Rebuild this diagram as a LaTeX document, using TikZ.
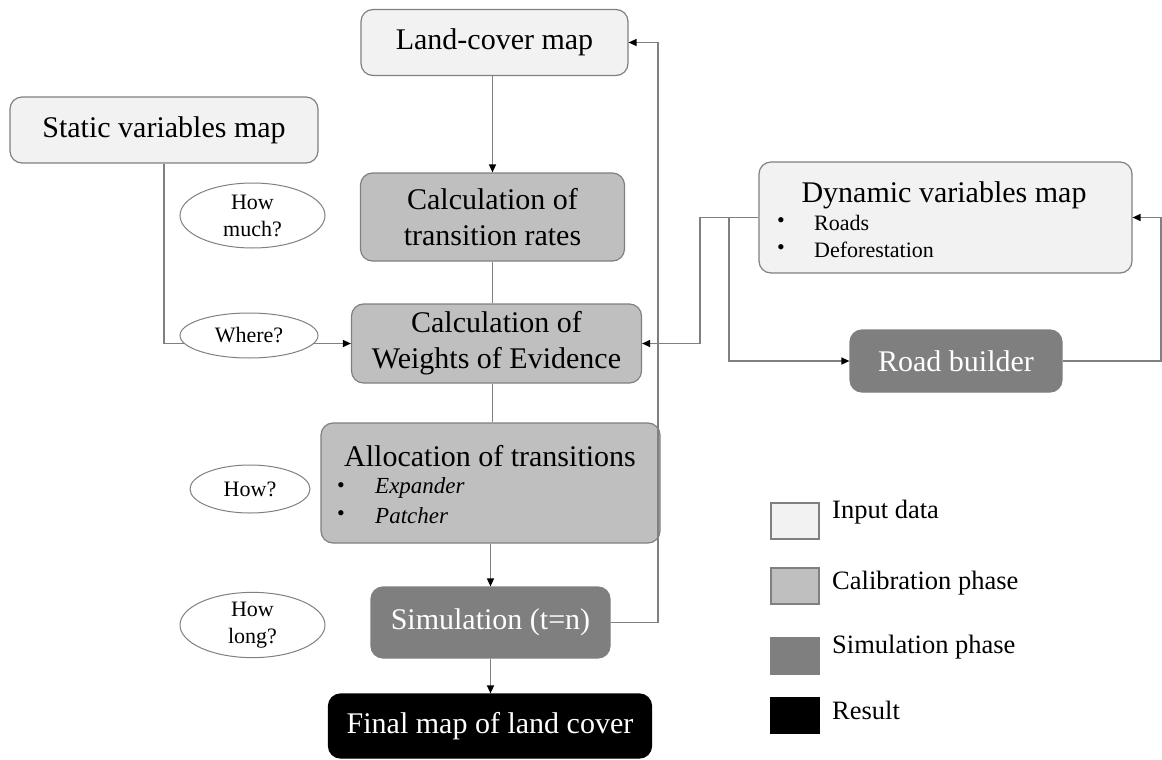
\documentclass[tikz,border=0pt]{standalone}
\usepackage{fontspec}
\setmainfont{Liberation Serif}
\usetikzlibrary{arrows.meta,shapes.geometric}
\definecolor{inputc}{HTML}{F2F2F2}
\definecolor{calc}{HTML}{BFBFBF}
\definecolor{simc}{HTML}{7F7F7F}
\definecolor{edgec}{HTML}{808080}
\tikzset{
  box/.style={draw=edgec, line width=1.2pt, rounded corners=12pt, align=center, inner sep=0pt, font=\fontsize{30}{36}\selectfont},
  inbox/.style={box, fill=inputc},
  calbox/.style={box, fill=calc},
  simbox/.style={box, fill=simc, text=white},
  resbox/.style={box, fill=black, draw=black, text=white},
  qell/.style={ellipse, draw=edgec, line width=1pt, fill=white, align=center, inner sep=0pt, font=\fontsize{22}{27}\selectfont},
  conn/.style={draw=edgec, line width=1.3pt},
  arr/.style={conn, -{Triangle[length=8pt,width=7pt,color=black]}},
  legbox/.style={draw=edgec, line width=1.2pt, minimum width=48pt, minimum height=36pt, inner sep=0pt},
  legtxt/.style={anchor=west, inner sep=0pt, font=\fontsize{26.5}{30}\selectfont},
  bul/.style={inner sep=0pt, font=\fontsize{22}{26}\selectfont},
  ttl/.style={inner sep=0pt, font=\fontsize{30}{36}\selectfont},
}
\begin{document}
\begin{tikzpicture}[x=1pt,y=-1pt]
\useasboundingbox (0,0) rectangle (1162,760);
% boxes
\node[inbox, minimum width=267pt, minimum height=66pt] (lc) at (494.5,42.5) {Land-cover map};
\node[inbox, minimum width=308pt, minimum height=66pt] (svm) at (164,130) {Static variables map};
\node[calbox, minimum width=264pt, minimum height=88pt] (tr) at (492.5,217) {Calculation of\\transition rates};
\node[calbox, minimum width=290pt, minimum height=79pt] (woe) at (496.5,343.5) {Calculation of\\Weights of Evidence};
\node[inbox, minimum width=373pt, minimum height=111pt] (dyn) at (945.5,217.5) {};
\node[simbox, minimum width=212pt, minimum height=62pt] (rb) at (956,361) {Road builder};
\node[calbox, minimum width=339pt, minimum height=120pt] (al) at (490.5,483) {};
\node[simbox, minimum width=239pt, minimum height=71pt] (sim) at (490.5,622.5) {Simulation (t=n)};
\node[resbox, minimum width=323pt, minimum height=64pt] (fin) at (490,726) {Final map of land cover};
% texts inside dynamic box
\node[ttl] (dynt) at (944,195) {Dynamic variables map};
\node[bul] (db1) at (781,223) {•};
\node[bul, anchor=west] (dr) at (814,223) {Roads};
\node[bul] (db2) at (781,250) {•};
\node[bul, anchor=west] (dd) at (814,250) {Deforestation};
% texts inside allocation box
\node[ttl] (alt) at (490,456) {Allocation of transitions};
\node[bul] (ab1) at (341,488) {•};
\node[bul, anchor=west, font=\fontsize{23}{27}\selectfont\itshape] (ae) at (375,488) {Expander};
\node[bul] (ab2) at (341,516) {•};
\node[bul, anchor=west, font=\fontsize{23}{27}\selectfont\itshape] (ap) at (375,516) {Patcher};
% coordinates
\coordinate (fbx) at (658,0);
\coordinate (dlx) at (700,0);
\coordinate (brx) at (729,0);
\coordinate (rrx) at (1161,0);
% connectors
\draw[arr] (lc.south -| tr.north) -- (tr.north);
\draw[conn] (tr.south) -- (woe.north -| tr.south);
\draw[conn] (woe.south -| tr.south) -- (al.north -| tr.south);
\draw[arr] (al.south) -- (sim.north);
\draw[arr] (sim.south) -- (fin.north -| sim.south);
\draw[arr] (svm.south) |- (woe.west);
\draw[arr] (sim.east) -| (fbx |- lc.east) -- (lc.east);
\draw[arr] (dyn.west) -| (dlx |- woe.east) -- (woe.east);
\draw[arr] (brx |- dyn.west) |- (rb.west);
\draw[arr] (rb.east) -| (rrx |- dyn.east) -- (dyn.east);
% question ellipses
\node[qell, minimum width=145pt, minimum height=65pt] (hm) at (252.5,215.5) {How\\much?};
\node[qell, minimum width=138pt, minimum height=45pt] (wh) at (249,335.5) {Where?};
\node[qell, minimum width=120pt, minimum height=48pt] (how) at (250,489) {How?};
\node[qell, minimum width=145pt, minimum height=64pt] (hl) at (252.5,625) {How\\long?};
% legend
\node[legbox, fill=inputc] (l1) at (795,521) {};
\node[legbox, fill=calc] (l2) at (795,586) {};
\node[legbox, fill=simc] (l3) at (795,656) {};
\node[legbox, fill=black, draw=black] (l4) at (795,715.5) {};
\node[legtxt] (t1) at (832,512) {Input data};
\node[legtxt] (t2) at (832,583) {Calibration phase};
\node[legtxt] (t3) at (832,647) {Simulation phase};
\node[legtxt] (t4) at (832,710) {Result};
\end{tikzpicture}
\end{document}
